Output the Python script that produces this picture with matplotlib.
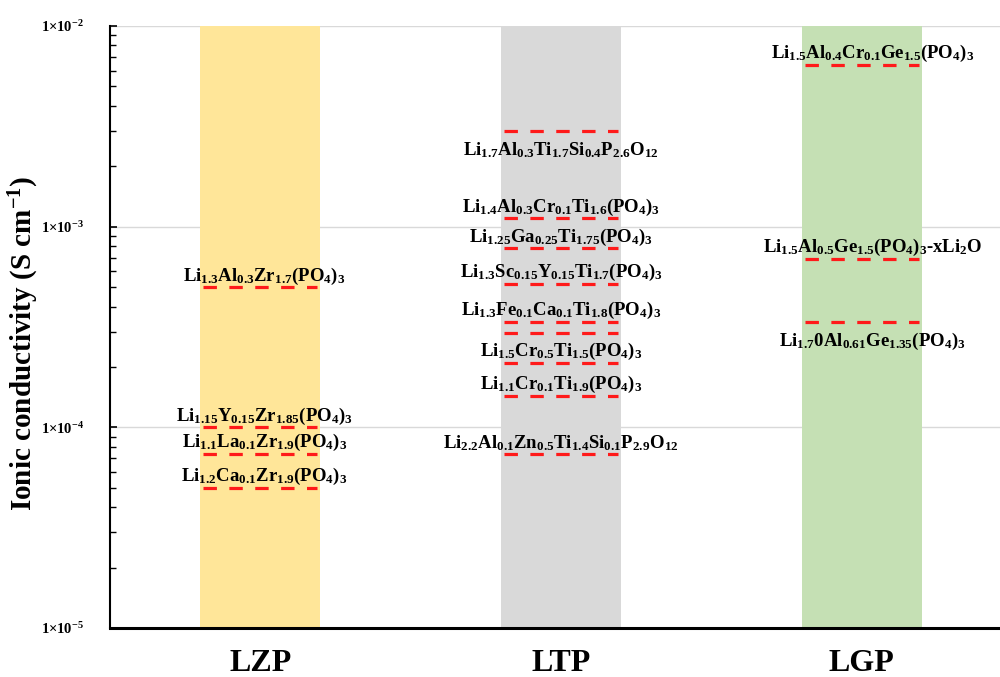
import numpy as np
import matplotlib
matplotlib.use("Agg")
import matplotlib.pyplot as plt

plt.rcParams['font.family'] = ['Liberation Serif', 'DejaVu Serif']
plt.rcParams['font.weight'] = 'bold'
plt.rcParams['mathtext.fontset'] = 'custom'
plt.rcParams['mathtext.rm'] = 'Liberation Serif:bold'
plt.rcParams['mathtext.it'] = 'Liberation Serif:bold'
plt.rcParams['mathtext.bf'] = 'Liberation Serif:bold'

# families and their band colours
families = ['LZP', 'LTP', 'LGP']
band_colors = ['#FFE699', '#D9D9D9', '#C5E0B4']

# conductivities (S/cm) per family, with compositions
lzp_values = [5.0e-4, 1.0e-4, 7.4e-5, 5.0e-5]
lzp_labels = [r'$\mathrm{Li_{1.3}Al_{0.3}Zr_{1.7}(PO_4)_3}$',
              r'$\mathrm{Li_{1.15}Y_{0.15}Zr_{1.85}(PO_4)_3}$',
              r'$\mathrm{Li_{1.1}La_{0.1}Zr_{1.9}(PO_4)_3}$',
              r'$\mathrm{Li_{1.2}Ca_{0.1}Zr_{1.9}(PO_4)_3}$']
lzp_below = [False, False, False, False]

ltp_values = [3.0e-3, 1.1e-3, 7.8e-4, 5.2e-4, 3.36e-4, 2.94e-4, 2.1e-4, 1.44e-4, 7.35e-5]
ltp_labels = [r'$\mathrm{Li_{1.7}Al_{0.3}Ti_{1.7}Si_{0.4}P_{2.6}O_{12}}$',
              r'$\mathrm{Li_{1.4}Al_{0.3}Cr_{0.1}Ti_{1.6}(PO_4)_3}$',
              r'$\mathrm{Li_{1.25}Ga_{0.25}Ti_{1.75}(PO_4)_3}$',
              r'$\mathrm{Li_{1.3}Sc_{0.15}Y_{0.15}Ti_{1.7}(PO_4)_3}$',
              r'$\mathrm{Li_{1.3}Fe_{0.1}Ca_{0.1}Ti_{1.8}(PO_4)_3}$',
              '',
              r'$\mathrm{Li_{1.5}Cr_{0.5}Ti_{1.5}(PO_4)_3}$',
              r'$\mathrm{Li_{1.1}Cr_{0.1}Ti_{1.9}(PO_4)_3}$',
              r'$\mathrm{Li_{2.2}Al_{0.1}Zn_{0.5}Ti_{1.4}Si_{0.1}P_{2.9}O_{12}}$']
ltp_below = [True, False, False, False, False, False, False, False, False]

lgp_values = [6.4e-3, 6.9e-4, 3.36e-4]
lgp_labels = [r'$\mathrm{Li_{1.5}Al_{0.4}Cr_{0.1}Ge_{1.5}(PO_4)_3}$',
              r'$\mathrm{Li_{1.5}Al_{0.5}Ge_{1.5}(PO_4)_3\text{-}xLi_2O}$',
              r'$\mathrm{Li_{1.7}0Al_{0.61}Ge_{1.35}(PO_4)_3}$']
lgp_below = [False, False, True]

y_min, y_max = 1e-5, 1e-2
y_ticks = [1e-5, 1e-4, 1e-3, 1e-2]
y_ticklabels = [r'$\mathrm{1{\times}10^{-5}}$', r'$\mathrm{1{\times}10^{-4}}$',
                r'$\mathrm{1{\times}10^{-3}}$', r'$\mathrm{1{\times}10^{-2}}$']

fig = plt.figure(figsize=(10, 6.77), dpi=100)
ax = fig.add_axes([0.11, 0.0724, 0.89, 0.8892])

x = np.arange(len(families))
bar_w = 0.40
ax.bar(x, y_max - y_min, bottom=y_min, width=bar_w, color=band_colors, zorder=1)

ax.set_yscale('log')
ax.set_ylim(y_min, y_max)
ax.set_xlim(-0.5, 2.46)

groups = [(lzp_values, lzp_labels, lzp_below),
          (ltp_values, ltp_labels, ltp_below),
          (lgp_values, lgp_labels, lgp_below)]
# the LGP compositions sit a little right of the band centre
label_shift = [3, 0, 8]

for xi, (vals, labs, below), dx in zip(x, groups, label_shift):
    ax.hlines(vals, xi - bar_w / 2 + 0.01, xi + bar_w / 2 - 0.01,
              colors='#FF1A1A', linewidth=2.3, linestyles=(0, (4.2, 3.9)), zorder=3)
    for v, lab, b in zip(vals, labs, below):
        if not lab:
            continue
        dy = -14 if b else 8
        ax.annotate(lab, (xi, v), xytext=(dx, dy), textcoords='offset points',
                    ha='center', va='center', fontsize=13.5, zorder=4)

ax.set_yticks(y_ticks)
ax.set_yticklabels(y_ticklabels, fontsize=10.5)
ax.set_xticks(x)
ax.set_xticklabels(families, fontsize=23, fontweight='bold')
ax.tick_params(axis='y', which='both', direction='in', pad=19)
ax.tick_params(axis='y', which='major', length=5, width=1.2)
ax.tick_params(axis='y', which='minor', length=4, width=1)
ax.tick_params(axis='x', length=0, pad=15)

ax.grid(axis='y', which='major', color='#D9D9D9', linewidth=1, zorder=0)
ax.set_axisbelow(True)
for s in ['top', 'right']:
    ax.spines[s].set_visible(False)
ax.spines['left'].set_linewidth(1.5)
ax.spines['bottom'].set_linewidth(2.2)

ax.set_ylabel(r'Ionic conductivity (S cm$^{\mathbf{-1}}$)', fontsize=21,
              fontweight='bold')
ax.yaxis.set_label_coords(-0.077, 0.472)

fig.savefig('out.png', dpi=100)
